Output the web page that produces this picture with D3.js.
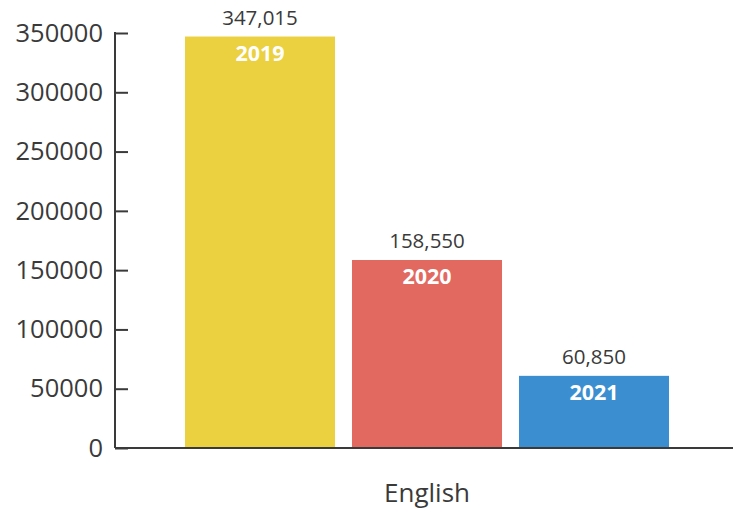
<!DOCTYPE html>
<html><head><meta charset="utf-8">
<script src="https://cdn.jsdelivr.net/npm/d3@7"></script>
<style>body{margin:0;background:#fff}svg{display:block}</style>
</head><body>
<svg id="chart" width="733" height="514"></svg>
<script>
const categories = ["English"];
const years = ["2019", "2020", "2021"];
const values = [347015, 158550, 60850];
const colors = ["#EBD040", "#E2695F", "#3B8FD0"];
const yTicks = [0, 50000, 100000, 150000, 200000, 250000, 300000, 350000];

(function () {
const svg = d3.select("#chart");
const mLeft = 115, mRight = 739, mTop = 33, mBottom = 448;
const font = "'Open Sans', 'Noto Sans', sans-serif";
const ink = "#3a3a3a";

const y = d3.scaleLinear().domain([0, 350000]).range([mBottom, mTop]);
const x0 = d3.scaleBand().domain(categories).range([mLeft, mRight]).paddingInner(0).paddingOuter(0.1446);
const x1 = d3.scaleBand().domain(years).range([0, x0.bandwidth()]).paddingInner(0.1018).paddingOuter(0);

const data = years.map((yr, i) => ({year: yr, value: values[i], color: colors[i], cat: categories[0]}));

const g = svg.append("g");
g.selectAll("rect.bar").data(data).enter().append("rect")
  .attr("class", "bar")
  .attr("x", d => x0(d.cat) + x1(d.year))
  .attr("y", d => y(d.value))
  .attr("width", x1.bandwidth())
  .attr("height", d => y(0) - y(d.value))
  .attr("fill", d => d.color);

g.selectAll("text.val").data(data).enter().append("text")
  .attr("x", d => x0(d.cat) + x1(d.year) + x1.bandwidth() / 2)
  .attr("y", d => y(d.value) - 12)
  .attr("text-anchor", "middle")
  .attr("font-family", font).attr("font-size", 20.5).attr("fill", ink)
  .text(d => d3.format(",")(d.value));

g.selectAll("text.yr").data(data).enter().append("text")
  .attr("x", d => x0(d.cat) + x1(d.year) + x1.bandwidth() / 2)
  .attr("y", d => y(d.value) + 24)
  .attr("text-anchor", "middle")
  .attr("font-family", font).attr("font-size", 21.5).attr("font-weight", "bold").attr("fill", "#fff")
  .text(d => d.year);

const yAxis = d3.axisLeft(y).tickValues(yTicks).tickFormat(d3.format("d")).tickSize(-13).tickPadding(12);
const ya = svg.append("g").attr("transform", `translate(${mLeft},0)`).call(yAxis);
ya.select(".domain").attr("stroke", ink).attr("stroke-width", 2).attr("d", `M0,${mTop - 1}V${mBottom}`);
ya.selectAll(".tick line").attr("stroke", ink).attr("stroke-width", 2);
ya.selectAll(".tick text").attr("font-family", font).attr("font-size", 25.5).attr("fill", ink);

const xAxis = d3.axisBottom(x0).tickSize(0).tickPadding(36);
const xa = svg.append("g").attr("transform", `translate(0,${mBottom})`).call(xAxis);
xa.select(".domain").attr("stroke", ink).attr("stroke-width", 2).attr("d", `M${mLeft},0H733`);
xa.selectAll(".tick text").attr("font-family", font).attr("font-size", 26).attr("fill", ink);
})();
</script>
</body></html>
